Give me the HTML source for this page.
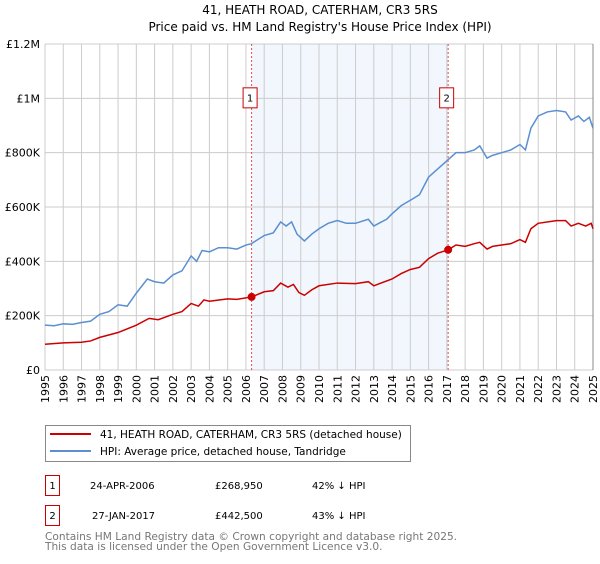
<!DOCTYPE html>
<html><head><meta charset="utf-8"><style>
body{margin:0;background:#fff;font-family:"DejaVu Sans","Liberation Sans",sans-serif;}
svg text{font-family:"DejaVu Sans","Liberation Sans",sans-serif;}
</style></head><body>
<svg id="chart" width="600" height="560" xmlns="http://www.w3.org/2000/svg">
<text x="320" y="14" text-anchor="middle" font-size="12">41, HEATH ROAD, CATERHAM, CR3 5RS</text>
<text x="320" y="31" text-anchor="middle" font-size="12">Price paid vs. HM Land Registry's House Price Index (HPI)</text>
<g id="plot"></g>
<g>
<rect x="45.5" y="425.5" width="365" height="36" fill="#fff" stroke="#888"/>
<line x1="50" y1="434" x2="91" y2="434" stroke="#cc0000" stroke-width="2"/>
<text x="100" y="438" font-size="10.5">41, HEATH ROAD, CATERHAM, CR3 5RS (detached house)</text>
<line x1="50" y1="451" x2="91" y2="451" stroke="#5b8fd0" stroke-width="2"/>
<text x="100" y="455" font-size="10.5">HPI: Average price, detached house, Tandridge</text>
</g>
<g font-size="10">
<rect x="45.5" y="475.5" width="14" height="20" fill="#fff" stroke="#cc0000"/>
<text x="52.5" y="489" text-anchor="middle">1</text>
<text x="90" y="489">24-APR-2006</text><text x="215" y="489">£268,950</text><text x="312" y="489">42% ↓ HPI</text>
<rect x="45.5" y="505.5" width="14" height="20" fill="#fff" stroke="#cc0000"/>
<text x="52.5" y="519" text-anchor="middle">2</text>
<text x="92" y="519">27-JAN-2017</text><text x="215" y="519">£442,500</text><text x="312" y="519">43% ↓ HPI</text>
</g>
<text x="45" y="540" font-size="10.6" fill="#777">Contains HM Land Registry data © Crown copyright and database right 2025.</text>
<text x="45" y="550" font-size="10.6" fill="#777">This data is licensed under the Open Government Licence v3.0.</text>
</svg>
<script>
const hpiYears=[1995,1995.5,1996,1996.5,1997,1997.5,1998,1998.5,1999,1999.5,2000,2000.6,2001,2001.5,2002,2002.5,2003,2003.3,2003.6,2004,2004.5,2005,2005.5,2006,2006.3,2007,2007.5,2007.9,2008.2,2008.5,2008.8,2009.2,2009.6,2010,2010.5,2011,2011.5,2012,2012.7,2013,2013.7,2014,2014.5,2015,2015.5,2016,2016.5,2017,2017.5,2018,2018.5,2018.8,2019.2,2019.5,2020,2020.5,2021,2021.3,2021.6,2022,2022.5,2023,2023.5,2023.8,2024.2,2024.5,2024.8,2025];
const hpiValues=[165000,163000,170000,168000,175000,180000,205000,215000,240000,235000,283000,335000,325000,320000,350000,365000,420000,400000,440000,435000,450000,450000,445000,460000,465000,495000,505000,545000,530000,545000,500000,475000,500000,520000,540000,550000,540000,540000,555000,530000,555000,575000,605000,625000,645000,710000,740000,770000,800000,800000,810000,825000,780000,790000,800000,810000,830000,810000,890000,935000,950000,955000,950000,920000,935000,915000,930000,890000];
const paidYears=[1995,1996,1997,1997.5,1998,1999,2000,2000.7,2001.2,2002,2002.5,2003,2003.4,2003.7,2004,2005,2005.5,2006.31,2007,2007.5,2007.9,2008.3,2008.6,2008.9,2009.2,2009.6,2010,2011,2012,2012.7,2013,2014,2014.5,2015,2015.5,2016,2016.5,2017.07,2017.5,2018,2018.5,2018.8,2019.2,2019.5,2020,2020.5,2021,2021.3,2021.6,2022,2023,2023.5,2023.8,2024.2,2024.6,2024.9,2025];
const paidValues=[95000,100000,102000,107000,120000,138000,165000,190000,185000,205000,215000,245000,235000,258000,253000,262000,260000,268950,288000,292000,320000,305000,315000,285000,275000,295000,310000,320000,318000,325000,310000,335000,355000,370000,378000,410000,430000,442500,460000,455000,465000,470000,445000,455000,460000,465000,480000,470000,520000,540000,550000,550000,530000,540000,530000,540000,520000];
const saleYears=[2006.31,2017.07];
const salePrices=[268950,442500];
const saleLabels=["1","2"];
const yTicks=[0,200000,400000,600000,800000,1000000,1200000];
const yTickLabels=["£0","£200K","£400K","£600K","£800K","£1M","£1.2M"];
const xTicks=[];for(let y=1995;y<=2025;y++)xTicks.push(y);

const L=45,R=593,T=44,B=370,NS="http://www.w3.org/2000/svg";
const x=v=>L+(v-1995)/30*(R-L);
const y=v=>B-v/1200000*(B-T);
const g=document.getElementById('plot');
function mk(t,a,p){const e=document.createElementNS(NS,t);for(const k in a)e.setAttribute(k,a[k]);(p||g).appendChild(e);return e;}
let sh=mk('rect',{x:x(saleYears[0]),y:T,width:x(saleYears[1])-x(saleYears[0]),height:B-T,fill:'#f2f6fd'});


xTicks.forEach(v=>{let l=mk('line',{x1:x(v),x2:x(v),y1:T,y2:B,stroke:'#ccc'});


let t=mk('text',{x:0,y:0,'font-size':11,'text-anchor':'end',transform:`translate(${x(v)+4},${B+5}) rotate(-90)`});t.textContent=v;

});
yTicks.forEach((v,i)=>{let l=mk('line',{x1:L,x2:R,y1:y(v),y2:y(v),stroke:'#ccc'});


let t=mk('text',{x:L-5,y:y(v)+4,'font-size':11,'text-anchor':'end'});t.textContent=yTickLabels[i];

});
let ax=mk('line',{x1:R,x2:R,y1:T,y2:B,stroke:'#888'});


saleYears.forEach((v,i)=>{let l=mk('line',{x1:x(v),x2:x(v),y1:T,y2:B,stroke:'#e05050','stroke-dasharray':'2,2'});


let r=mk('rect',{x:x(v)-8.5,y:y(1000000)-10.5,width:14,height:20,fill:'#fff',stroke:'#cc0000'});


let t=mk('text',{x:x(v)-1.5,y:y(1000000)+3,'font-size':10,'text-anchor':'middle'});t.textContent=saleLabels[i];

});
function line(xs,vs,c,n){let p=mk('polyline',{points:xs.map((a,i)=>x(a)+','+y(vs[i])).join(' '),fill:'none',stroke:c,'stroke-width':1.5});

}
line(hpiYears,hpiValues,'#5b8fd0','hpi-line');
line(paidYears,paidValues,'#cc0000','price-paid-line');
saleYears.forEach((v,i)=>{let c=mk('circle',{cx:x(v),cy:y(salePrices[i]),r:4,fill:'#cc0000'});

});
</script>
</body></html>
